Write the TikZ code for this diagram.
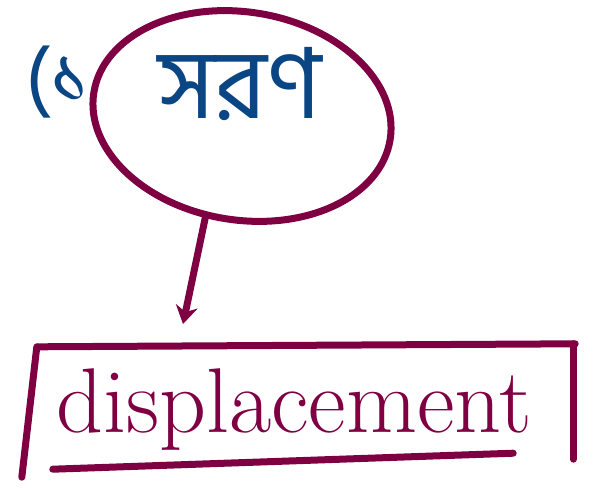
\documentclass[tikz,border=0pt]{standalone}
\usepackage{fontspec}
\newfontfamily\bengalifont[Script=Bengali]{Hind Siliguri}
\usetikzlibrary{shapes.geometric,arrows.meta}
\definecolor{pen}{HTML}{7F0042}
\definecolor{ink}{HTML}{0A4584}
\tikzset{
  stroke/.style={draw=pen, line width=7pt, line cap=round, line join=round},
  bluetext/.style={text=ink, inner sep=0pt},
}
\begin{document}
\begin{tikzpicture}[x=1pt,y=-1pt]
\useasboundingbox (0,0) rectangle (609,487);
% circled term
\node[ellipse, draw=pen, line width=7pt, rotate=-9, minimum width=300pt, minimum height=208pt, inner sep=0pt] (term) at (242,116) {};
\node[bluetext, font=\bengalifont\fontsize{98}{100}\selectfont] (word) at (240,84) {সরণ};
\node[bluetext, font=\bengalifont\fontsize{80}{84}\selectfont] (num) at (58,82) {(১};
% box
\node[minimum width=540pt, minimum height=122pt, inner sep=0pt] (box) at (305,408) {};
\node[text=pen, font=\fontsize{92}{96}\selectfont, inner sep=0pt] (disp) at (294,410) {displacement};
\draw[stroke] ([xshift=3pt]box.north west) -- ([yshift=3pt]box.north east);
\draw[stroke] ([xshift=2pt]box.north west) -- ([xshift=-13pt,yshift=-8pt]box.south west);
\draw[stroke] ([xshift=-2pt,yshift=3pt]box.north east) -- ([xshift=-2pt,yshift=10pt]box.south east);
\draw[stroke] ([xshift=18pt]box.south west) -- ([xshift=-62pt,yshift=16pt]box.south east);
% arrow
\coordinate (tip) at (183,324);
\draw[stroke, -{Stealth[length=18pt,width=22pt]}] (term.south) ++(-20pt,4pt) coordinate (start) -- (tip);
\end{tikzpicture}
\end{document}
